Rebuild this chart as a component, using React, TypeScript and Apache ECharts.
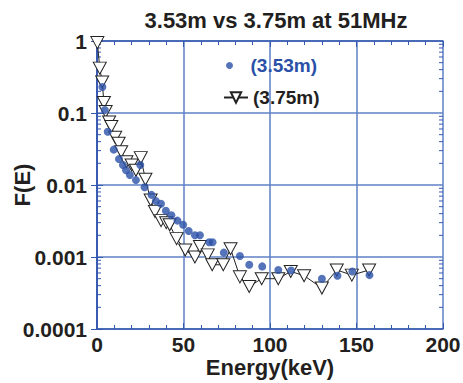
import React, { useEffect, useRef } from "react";
import * as echarts from "echarts";

const titleText = "3.53m vs 3.75m at 51MHz";
const xTickLabels = ["0", "50", "100", "150", "200"];
const yTickLabels = ["0.0001", "0.001", "0.01", "0.1", "1"];
const yMinorMultipliers = [2, 3, 4, 5, 6, 7, 8, 9];
const yDecades = [0.0001, 0.001, 0.01, 0.1];

const name353 = "(3.53m)";
const energy353 = [3.1, 4.5, 6.2, 9.7, 12.7, 15, 16.8, 19, 22.5, 25, 27.5, 31.5, 34, 37, 39.8, 43, 46.5, 49.8, 53, 56.6, 59.5, 64.8, 66.8, 73.3, 82.6, 88, 95.5, 104.8, 112.2, 130, 139, 147.6, 157.5];
const f353 = [0.23, 0.11, 0.055, 0.031, 0.023, 0.019, 0.016, 0.0138, 0.0117, 0.019, 0.0093, 0.0073, 0.006, 0.0055, 0.0044, 0.0038, 0.0032, 0.0028, 0.0023, 0.002, 0.002, 0.0016, 0.0016, 0.00115, 0.00103, 0.00078, 0.00074, 0.00066, 0.00065, 0.0005, 0.00055, 0.00063, 0.00056];

const name375 = "(3.75m)";
const energy375 = [0.2, 1.6, 3.0, 4.0, 5.0, 7.0, 8.3, 10.5, 12.5, 14, 17, 20, 22.5, 25.3, 28, 31, 33.5, 37, 40, 42, 46, 51, 56.6, 59.5, 64, 66.6, 73, 77.2, 82.6, 88, 95.2, 104.8, 112, 119.7, 130, 138.6, 147.3, 157.3];
const f375 = [0.95, 0.42, 0.27, 0.14, 0.105, 0.075, 0.065, 0.046, 0.038, 0.029, 0.021, 0.019, 0.016, 0.024, 0.012, 0.0062, 0.0043, 0.0032, 0.003, 0.0028, 0.0018, 0.00125, 0.001, 0.0014, 0.00107, 0.00078, 0.00078, 0.0013, 0.00053, 0.00039, 0.0005, 0.0005, 0.00063, 0.00055, 0.00037, 0.00066, 0.00056, 0.00066];

const BLUE = "#2a50a8";
const AXIS = "#3558b0";
const GRID = "#5f80c6";
const TEXT = "#231f20";
const FONT = "'Liberation Sans', Arial, sans-serif";

export default function App() {
  const ref = useRef<HTMLDivElement>(null);
  useEffect(() => {
    if (!ref.current) return;
    const chart = echarts.init(ref.current, undefined, { renderer: "svg" });
    const minorData: number[][] = [];
    yDecades.forEach((d) => yMinorMultipliers.forEach((k) => minorData.push([0, k * d])));
    const xMin = Number(xTickLabels[0]);
    const xMax = Number(xTickLabels[xTickLabels.length - 1]);
    chart.setOption({
      animation: false,
      backgroundColor: "#ffffff",
      textStyle: { fontFamily: FONT },
      title: {
        text: titleText,
        left: 271,
        top: 4,
        textAlign: "center",
        textStyle: { fontSize: 22, fontWeight: "bold", color: TEXT, fontFamily: FONT },
      },
      legend: [
        {
          data: [name353],
          left: 221,
          top: 51,
          itemWidth: 32,
          itemHeight: 7,
          textStyle: { color: BLUE, fontSize: 19, fontWeight: "bold", fontFamily: FONT },
        },
        {
          data: [name375],
          left: 218,
          top: 83,
          itemWidth: 24,
          itemHeight: 13,
          textStyle: { color: TEXT, fontSize: 19, fontWeight: "bold", fontFamily: FONT },
        },
      ],
      grid: { left: 97, right: 20, top: 41, bottom: 54, containLabel: false, outerBoundsMode: "none" },
      xAxis: [
        {
          type: "value",
          min: xMin,
          max: xMax,
          interval: 50,
          name: "Energy(keV)",
          nameLocation: "middle",
          nameGap: 27,
          nameMoveOverlap: false,
          nameTextStyle: { fontSize: 22, fontWeight: "bold", color: TEXT, fontFamily: FONT },
          axisLine: { lineStyle: { color: AXIS, width: 1.5 } },
          axisTick: { inside: true, length: 6, lineStyle: { color: AXIS } },
          minorTick: { show: true, splitNumber: 5, length: 4, lineStyle: { color: AXIS } },
          splitLine: { show: true, lineStyle: { color: GRID, width: 1.5 } },
          axisLabel: {
            margin: 5,
            fontSize: 21,
            fontWeight: "bold",
            color: TEXT,
            fontFamily: FONT,
            formatter: (v: number) => xTickLabels[Math.round(v / 50)],
          },
        },
        {
          type: "value",
          position: "top",
          min: xMin,
          max: xMax,
          interval: 50,
          axisLine: { show: true, lineStyle: { color: AXIS, width: 1.5 } },
          axisTick: { inside: true, length: 6, lineStyle: { color: AXIS } },
          minorTick: { show: true, splitNumber: 5, length: 4, lineStyle: { color: AXIS } },
          splitLine: { show: false },
          axisLabel: { show: false },
        },
      ],
      yAxis: [
        {
          type: "log",
          logBase: 10,
          min: 0.0001,
          max: 1,
          name: "F(E)",
          nameLocation: "middle",
          nameRotate: 90,
          nameGap: 64,
          nameMoveOverlap: false,
          nameTextStyle: { fontSize: 22, fontWeight: "bold", color: TEXT, fontFamily: FONT },
          axisLine: { show: true, lineStyle: { color: AXIS, width: 1.5 } },
          axisTick: { inside: true, length: 6, lineStyle: { color: AXIS } },
          splitLine: { show: true, lineStyle: { color: GRID, width: 1.5 } },
          axisLabel: {
            margin: 10,
            fontSize: 21,
            fontWeight: "bold",
            color: TEXT,
            fontFamily: FONT,
            formatter: (v: number) => yTickLabels[Math.round(Math.log10(v)) + 4],
          },
        },
        {
          type: "log",
          logBase: 10,
          min: 0.0001,
          max: 1,
          position: "right",
          axisLine: { show: true, lineStyle: { color: AXIS, width: 1.5 } },
          axisTick: { inside: true, length: 6, lineStyle: { color: AXIS } },
          splitLine: { show: false },
          axisLabel: { show: false },
        },
      ],
      series: [
        {
          type: "custom",
          silent: true,
          xAxisIndex: 0,
          yAxisIndex: 0,
          data: minorData,
          renderItem: (params: any, api: any) => {
            const v = api.value(1);
            const pL = api.coord([xMin, v]);
            const pR = api.coord([xMax, v]);
            return {
              type: "group",
              children: [
                { type: "line", shape: { x1: pL[0], y1: pL[1], x2: pL[0] + 4, y2: pL[1] }, style: { stroke: AXIS, lineWidth: 1 } },
                { type: "line", shape: { x1: pR[0], y1: pR[1], x2: pR[0] - 4, y2: pR[1] }, style: { stroke: AXIS, lineWidth: 1 } },
              ],
            };
          },
        },
        {
          name: name375,
          type: "line",
          clip: false,
          data: energy375.map((e, i) => [e, f375[i]]),
          symbol: "triangle",
          symbolRotate: 180,
          symbolSize: [13, 12],
          showAllSymbol: true,
          lineStyle: { color: "#222222", width: 1 },
          itemStyle: { color: "#ffffff", borderColor: "#222222", borderWidth: 1 },
          z: 3,
        },
        {
          name: name353,
          type: "scatter",
          clip: false,
          data: energy353.map((e, i) => [e, f353[i]]),
          symbol: "circle",
          symbolSize: 8,
          itemStyle: { color: BLUE },
          z: 4,
        },
      ],
    });
    return () => chart.dispose();
  }, []);
  return <div ref={ref} style={{ width: 463, height: 383, position: "absolute", left: 0, top: 0 }} />;
}
